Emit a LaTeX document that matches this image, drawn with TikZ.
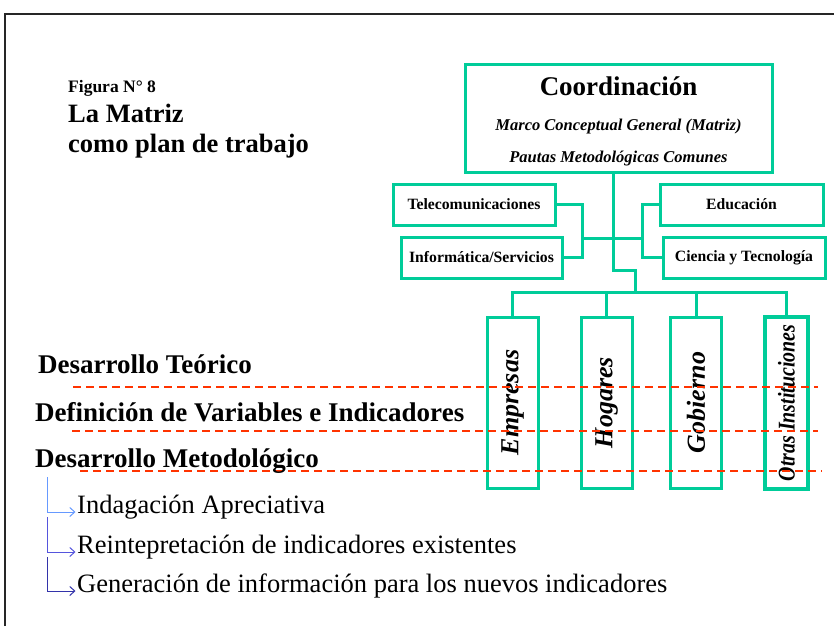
\documentclass[tikz,border=0pt]{standalone}
\usepackage{fontspec}
\setmainfont{Liberation Serif}
\usepackage{graphicx}
\usepackage{tikz}
\usetikzlibrary{arrows.meta,positioning,calc}
\definecolor{mintgreen}{RGB}{0,204,153}
\definecolor{dashred}{RGB}{255,51,0}
\definecolor{blueA}{RGB}{102,153,255}
\definecolor{blueB}{RGB}{85,85,221}
\definecolor{blueC}{RGB}{51,51,170}

\begin{document}
\begin{tikzpicture}[x=1pt,y=-1pt,%
        greenbox/.style={draw=mintgreen, line width=3pt, rectangle, inner sep=0pt},
        greenline/.style={draw=mintgreen, line width=3pt},
        levelline/.style={draw=dashred, line width=2pt, dash pattern=on 8pt off 5pt},
        sidebox/.style={greenbox, minimum width=162, minimum height=41, font=\fontsize{15.7}{18}\selectfont\bfseries},
        colbox/.style={greenbox, minimum width=51, minimum height=171},
        coltext/.style={rotate=90, inner sep=0pt, font=\fontsize{26}{30}\selectfont\bfseries\itshape},
        heading/.style={anchor=base west, inner sep=0pt, font=\fontsize{27}{30}\selectfont\bfseries},
        item/.style={anchor=base west, inner sep=0pt, font=\fontsize{26.5}{30}\selectfont},
        ]
        \useasboundingbox (0,0) rectangle (834,626);

        %% frame
        \coordinate (frame_bl) at (5,626);
        \coordinate (frame_tl) at (5,14);
        \coordinate (frame_tr) at (834,14);
        \draw[line width=2pt, black!85] (frame_bl) -- (frame_tl) -- (frame_tr);

        %% title
        \node[heading, font=\fontsize{17.5}{20}\selectfont\bfseries] (fig_num) at (68,92) {Figura N° 8};
        \node[heading, font=\fontsize{26.5}{30}\selectfont\bfseries] (title_a) at (68,122) {La Matriz};
        \node[heading, font=\fontsize{26.5}{30}\selectfont\bfseries] (title_b) at (68,152) {como plan de trabajo};

        %% coordination box
        \node[greenbox, minimum width=307, minimum height=108] (box_coord) at (618.5,118) {};
        \node[anchor=base, font=\fontsize{27}{30}\selectfont\bfseries] (txt_coord) at (618.5,95) {Coordinación};
        \node[anchor=base, font=\fontsize{16.5}{20}\selectfont\bfseries\itshape] (txt_marco) at (618.5,130) {Marco Conceptual General (Matriz)};
        \node[anchor=base, font=\fontsize{16.5}{20}\selectfont\bfseries\itshape] (txt_pautas) at (618.5,162) {Pautas Metodológicas Comunes};

        %% side boxes
        \node[sidebox] (box_tele) at (474,204.5) {Telecomunicaciones};
        \node[sidebox, minimum width=161] (box_info) at (481.5,257.5) {Informática/Servicios};
        \node[sidebox, minimum width=163] (box_edu) at (741.5,204.5) {Educación};
        \node[sidebox] (box_cyt) at (744,257.5) {Ciencia y Tecnología};

        \coordinate (brk_l) at (582,238);
        \coordinate (brk_r) at (642,238);
        \draw[greenline] (box_tele.east) -| (brk_l) |- (box_info.east);
        \draw[greenline] (brk_l) -- (brk_r);
        \draw[greenline] (box_edu.west) -| (brk_r) |- (box_cyt.west);

        \coordinate (stem) at (613,270);
        \coordinate (hub) at (635,292);
        \draw[greenline] (stem |- box_coord.south) -- (stem) -| (hub);

        %% columns
        \foreach \n/\x/\t in {emp/512.5/Empresas, hog/606.5/Hogares, gob/696/Gobierno} {
          \node[colbox] (col_\n) at (\x,402.5) {};
          \node[coltext] (txt_\n) at (col_\n.center) {\t};
        }
        \node[colbox, minimum width=43, minimum height=172, line width=3.5pt] (col_otr) at (786.5,403) {};
        \node[coltext, font=\fontsize{24}{28}\selectfont\bfseries\itshape] (txt_otr) at (col_otr.center) {\scalebox{0.83}[1]{Otras Instituciones}};

        \draw[greenline] (col_emp.north) |- (hub) -| (col_otr.north);
        \foreach \n in {hog,gob} {
          \draw[greenline] (col_\n.north) -- (col_\n.north |- hub);
        }

        %% levels
        \foreach \y/\a/\b in {387/73/818, 431/72/818, 471/80/822} {
          \draw[levelline] (\a,\y) -- (\b,\y);
        }
        \node[heading] (lvl_teo) at (38,373) {Desarrollo Teórico};
        \node[heading] (lvl_var) at (35,421) {Definición de Variables e Indicadores};
        \node[heading] (lvl_met) at (35,467) {Desarrollo Metodológico};

        %% steps
        \node[item] (step_1) at (77,513) {Indagación Apreciativa};
        \node[item] (step_2) at (77,553) {Reintepretación de indicadores existentes};
        \node[item] (step_3) at (77,592) {Generación de información para los nuevos indicadores};
        \foreach \i/\y/\c in {1/477/blueA, 2/517/blueB, 3/557/blueC} {
          \coordinate (tick_\i) at (47,\y);
          \draw[\c, line width=1pt, shorten >=1.5pt, -{Straight Barb[length=5pt,width=9pt]}] (tick_\i) |- ($(step_\i.base west)+(0,-1)$);
        }

      \end{tikzpicture}
\end{document}
